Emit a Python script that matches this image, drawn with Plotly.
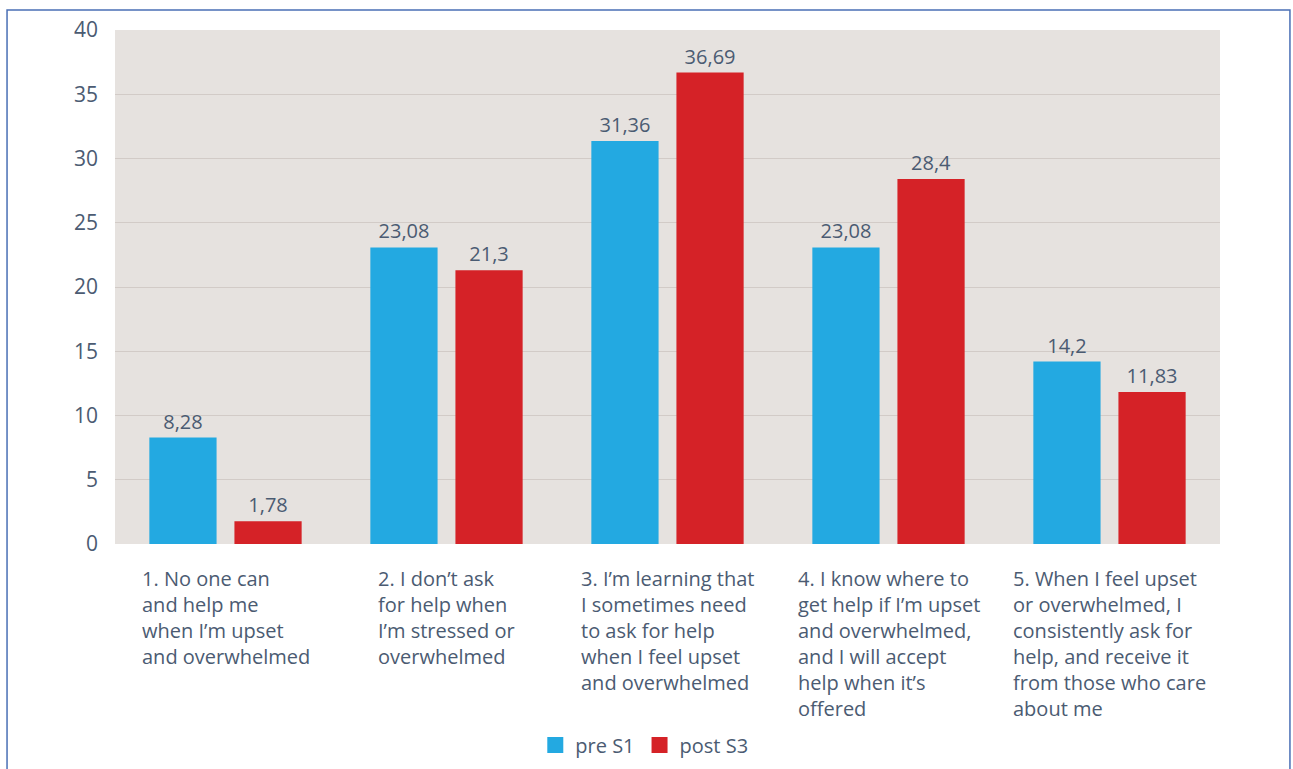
import plotly.graph_objects as go

# Survey statements (x categories) and responses (%) before and after
categories = [
    "1. No one can<br>and help me<br>when I’m upset<br>and overwhelmed",
    "2. I don’t ask<br>for help when<br>I’m stressed or<br>overwhelmed",
    "3. I’m learning that<br>I sometimes need<br>to ask for help<br>when I feel upset<br>and overwhelmed",
    "4. I know where to<br>get help if I’m upset<br>and overwhelmed,<br>and I will accept<br>help when it’s<br>offered",
    "5. When I feel upset<br>or overwhelmed, I<br>consistently ask for<br>help, and receive it<br>from those who care<br>about me",
]
keys = ["c1", "c2", "c3", "c4", "c5"]
pre_s1 = [8.28, 23.08, 31.36, 23.08, 14.2]
post_s3 = [1.78, 21.3, 36.69, 28.4, 11.83]
y_ticks = [0, 5, 10, 15, 20, 25, 30, 35, 40]

BLUE = "#23a9e1"
RED = "#d52227"
TEXT = "#4b5b72"
FONT = "Open Sans"
FS = 20


def fmt(v):
    return f"{v:g}".replace(".", ",")


fig = go.Figure()
series = [("pre S1", pre_s1, BLUE), ("post S3", post_s3, RED)]
for name, vals, color in series:
    fig.add_trace(go.Bar(
        name=name, x=keys, y=vals, showlegend=False,
        marker=dict(color=color, line=dict(width=0)),
        text=[fmt(v) for v in vals],
        textposition="outside",
        textfont=dict(family=FONT, size=FS, color=TEXT),
        cliponaxis=False,
    ))

# Legend entries with large square swatches
for name, _, color in series:
    fig.add_trace(go.Scatter(
        name=name, x=[None], y=[None], mode="markers",
        marker=dict(symbol="square", size=16, color=color),
        showlegend=True,
    ))

# Multi-line category labels, left-aligned within a centred block
for k, label in zip(keys, categories):
    fig.add_annotation(
        x=k, y=0, xref="x", yref="paper", yanchor="top", xanchor="center",
        yshift=-19, text=label, showarrow=False, align="left",
        font=dict(family=FONT, size=FS, color=TEXT),
    )

# Thin frame around the whole graphic
fig.add_shape(
    type="rect", xref="paper", yref="paper",
    x0=-0.0977, x1=1.0633, y0=-0.6, y1=1.0389,
    line=dict(color="#4a6fb5", width=1.5), fillcolor="rgba(0,0,0,0)",
    layer="above",
)

fig.update_layout(
    width=1293, height=769,
    margin=dict(l=115, r=73, t=30, b=225, autoexpand=False),
    paper_bgcolor="white",
    plot_bgcolor="#e6e2df",
    barmode="group", bargap=0.23, bargroupgap=0.21,
    font=dict(family=FONT, size=FS, color=TEXT),
    showlegend=True,
    legend=dict(
        orientation="h", x=0.479, xanchor="center", y=-0.391, yanchor="middle",
        font=dict(family=FONT, size=FS, color=TEXT),
        itemwidth=30, traceorder="normal", tracegroupgap=0,
    ),
    xaxis=dict(showticklabels=False, showgrid=False, zeroline=False,
               showline=False, fixedrange=True),
    yaxis=dict(
        range=[0, 40], tickvals=y_ticks, showgrid=True,
        gridcolor="#d2cbc7", gridwidth=1.2, zeroline=False, showline=False,
        ticklabelstandoff=16,
        tickfont=dict(family=FONT, size=21, color=TEXT),
    ),
)

fig.write_html("out.html")
